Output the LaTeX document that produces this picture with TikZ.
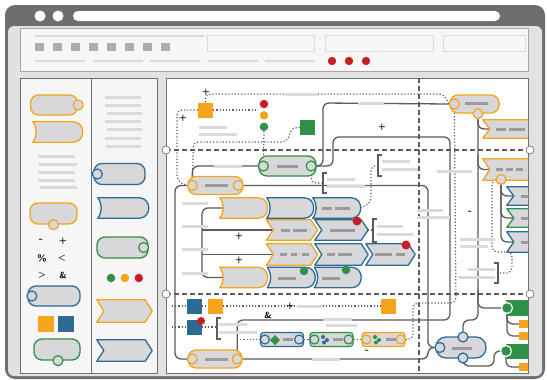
\documentclass[tikz,border=0pt]{standalone}
\usepackage{tikz}
\usetikzlibrary{positioning}

\definecolor{orng}{HTML}{F4A51C}
\definecolor{blu}{HTML}{2D6A94}
\definecolor{grn}{HTML}{2E9147}
\definecolor{rd}{HTML}{C81E28}
\definecolor{shp}{HTML}{D8D8DA}
\definecolor{lbar}{HTML}{DADADA}
\definecolor{dbar}{HTML}{9A9A9A}
\definecolor{wirec}{HTML}{5C5C5C}
\definecolor{framec}{HTML}{6E6E6E}
\definecolor{bodyc}{HTML}{E2E2E2}
\definecolor{panelc}{HTML}{F6F6F6}

\pgfdeclarelayer{back}
\pgfdeclarelayer{wires}
\pgfsetlayers{back,wires,main}

% block with a hollow left side and a round nose
\newcommand{\dshape}[6]{%
  \node[inner sep=0pt, minimum width=#4pt, minimum height=#5pt] (#1) at (#2,#3) {};
  \draw[draw=#6, fill=shp, line width=1.3pt, line join=round]
    (#1.north west) to[bend left=35] (#1.south west)
    -- ([xshift=-9pt]#1.south east) to[out=0, in=0, looseness=1.6] ([xshift=-9pt]#1.north east) -- cycle;
  \coordinate (#1-in) at ([xshift=4pt]#1.west);
}
% arrow shaped step
\newcommand{\chev}[6]{%
  \node[inner sep=0pt, minimum width=#4pt, minimum height=#5pt] (#1) at (#2,#3) {};
  \draw[draw=#6, fill=shp, line width=1.3pt, line join=round]
    (#1.north west) -- ([xshift=-7pt]#1.north east) -- (#1.east)
    -- ([xshift=-7pt]#1.south east) -- (#1.south west) -- ([xshift=7pt]#1.west) -- cycle;
  \coordinate (#1-in) at ([xshift=7pt]#1.west);
}

\begin{document}
\begin{tikzpicture}[x=1pt, y=1pt,
  pill/.style={draw=#1, fill=shp, line width=1.3pt, rounded corners=8pt, inner sep=0pt},
  port/.style={circle, draw=#1, fill=shp, line width=1.2pt, minimum size=10pt, inner sep=0pt},
  lamp/.style={circle, fill=#1, minimum size=8.5pt, inner sep=0pt},
  sq/.style={fill=#1, minimum size=15pt, inner sep=0pt},
  task/.style={draw=#1, fill=shp, line width=1.2pt, rounded corners=3pt, minimum width=43pt, minimum height=14pt, inner sep=0pt},
  sink/.style={fill=grn, minimum width=30pt, inner sep=0pt, anchor=west},
  outlet/.style={fill=orng, minimum width=16pt, minimum height=8pt, inner sep=0pt, anchor=west},
  wire/.style={draw=wirec, line width=1.3pt, rounded corners=6pt},
  dotwire/.style={draw=wirec, line width=1.2pt, dotted, rounded corners=5pt},
  lane/.style={draw=wirec, line width=1.1pt, dash pattern=on 5pt off 3pt},
  brk/.style={draw=wirec, line width=1.2pt},
  txt/.style={draw=lbar, line width=3pt},
  ink/.style={draw=dbar, line width=3pt},
  sym/.style={font=\sffamily\bfseries\small, inner sep=0pt},
  minus/.style={font=\sffamily\bfseries\large, inner sep=0pt},
  handle/.style={circle, draw=gray, fill=white, line width=0.8pt, minimum size=8pt, inner sep=0pt}]
\useasboundingbox (0,0) rectangle (547,-380);

\begin{pgfonlayer}{back}
  % window
  \fill[framec, rounded corners=10pt] (5,-5) rectangle (545,-379);
  \fill[bodyc, rounded corners=6pt] (8,-26) rectangle (542,-376);
  \fill[white] (40,-16) circle (5.5) (58,-16) circle (5.5);
  \fill[white, rounded corners=5pt] (73,-11) rectangle (500,-21);
  % toolbar
  \draw[draw=gray!70, fill=panelc, line width=0.8pt] (20,-28) rectangle (528,-71);
  \draw[txt, line width=2.5pt] (35,-36) -- (204,-36);
  \draw[lbar, line width=1pt] (207,-35) rectangle (314,-51);
  \draw[lbar, line width=1pt] (325,-35) rectangle (433,-51);
  \draw[lbar, line width=1pt] (443,-35) rectangle (525,-51);
  \foreach \i in {0,...,7}
    \fill[gray!65] (35+18*\i,-43) rectangle ++(9,-8);
  \foreach \i in {0,...,4}
    \draw[txt, line width=2.5pt] (35+57.5*\i,-61) -- ++(50,0);
  \foreach \x in {332,349,366}
    \fill[rd] (\x,-61) circle (4.2);
  % side panels and canvas
  \draw[draw=framec, fill=panelc, line width=0.8pt] (20,-78) rectangle (91,-373);
  \draw[draw=framec, fill=panelc, line width=0.8pt] (91,-78) rectangle (157,-373);
  \draw[draw=framec, fill=white, line width=0.8pt] (166,-78) rectangle (528,-373);
\end{pgfonlayer}

% palette, left column
\node[pill=orng, minimum width=47pt, minimum height=20pt] (PalA) at (54,-105) {};
\node[port=orng] (PalAp) at (PalA.east) {};
\dshape{PalB}{57.5}{-132}{49}{20}{orng}
\foreach \a/\b/\y in {38/75/156, 39/77/164, 38/75/172, 38/75/180, 40/77/187}
  \draw[txt] (\a,-\y) -- (\b,-\y);
\node[pill=orng, minimum width=47pt, minimum height=21pt] (PalC) at (53.5,-213.5) {};
\node[port=orng] (PalCp) at (PalC.south) {};
\node[minus] (OpMinus) at (41,-241) {-};
\node[sym] (OpPlus) at (63,-241) {+};
\node[sym] (OpPct) at (42,-258) {\%};
\node[sym] (OpLess) at (62,-258) {<};
\node[sym] (OpMore) at (42,-275) {>};
\node[sym] (OpAnd) at (63,-275) {\&};
\node[pill=blu, minimum width=52pt, minimum height=20pt] (PalD) at (54,-296) {};
\node[port=blu] (PalDp) at ([xshift=4.5pt]PalD.west) {};
\node[sq=orng, minimum size=16pt] (PalSqA) at (45.5,-323.5) {};
\node[sq=blu, minimum size=16pt] (PalSqB) at (65.5,-323.5) {};
\node[pill=grn, minimum width=46pt, minimum height=21pt] (PalE) at (57,-349.5) {};
\node[port=grn] (PalEp) at ([xshift=1pt]PalE.south) {};

% palette, right column
\foreach \a/\b/\y in {105/141/97, 105/141/105, 107/142/113, 105/141/121, 107/142/129, 105/141/138, 106/141/146}
  \draw[txt] (\a,-\y) -- (\b,-\y);
\node[pill=blu, minimum width=51pt, minimum height=21pt] (PalF) at (119.5,-174) {};
\node[port=blu] (PalFp) at ([xshift=4pt]PalF.west) {};
\dshape{PalG}{123}{-208}{50}{20}{blu}
\node[pill=grn, minimum width=51pt, minimum height=21pt] (PalH) at (122.5,-247.5) {};
\node[port=grn] (PalHp) at ([xshift=-5pt]PalH.east) {};
\node[lamp=grn] (PalLampA) at (111,-278) {};
\node[lamp=orng, right=5pt of PalLampA] (PalLampB) {};
\node[lamp=rd, right=5pt of PalLampB] (PalLampC) {};
\chev{PalI}{124.5}{-311}{55}{22}{orng}
\chev{PalJ}{124.5}{-350.5}{55}{21}{blu}

% canvas: top left
\node[sq=orng] (OrSq) at (205.5,-110) {};
\node[lamp=rd] (RedLamp) at (264,-104) {};
\node[lamp=orng, below=2.5pt of RedLamp] (AmberLamp) {};
\node[lamp=grn, below=2.5pt of AmberLamp] (GreenLamp) {};
\node[sq=grn] (GrSq) at (307.5,-127.5) {};
\node[pill=grn, minimum width=57pt, minimum height=20pt] (GrCap) at (287.5,-166) {};
\node[port=grn] (GrCapL) at ([xshift=5pt]GrCap.west) {};
\node[port=grn] (GrCapR) at ([xshift=-5.5pt]GrCap.east) {};
\node[pill=orng, minimum width=55pt, minimum height=18pt] (InCap) at (215.5,-185.5) {};
\node[port=orng] (InCapL) at ([xshift=5pt]InCap.west) {};
\node[port=orng] (InCapR) at ([xshift=-5.5pt]InCap.east) {};
\node[pill=orng, minimum width=54pt, minimum height=18pt] (OutCap) at (215,-359) {};
\node[port=orng] (OutCapL) at ([xshift=5pt]OutCap.west) {};
\node[port=orng] (OutCapR) at ([xshift=-5.5pt]OutCap.east) {};
\node[pill=orng, minimum width=49pt, minimum height=18pt] (HubCap) at (474.5,-104) {};
\node[port=orng] (HubCapL) at ([xshift=5pt]HubCap.west) {};
\node[port=orng] (HubCapB) at ([xshift=3.5pt]HubCap.south) {};

% canvas: step rows
\dshape{RowA1}{243.5}{-208}{47}{20}{orng}
\dshape{RowA2}{290}{-208}{46}{20}{blu}
\dshape{RowA3}{336.5}{-208}{47}{20}{blu}
\chev{RowB1}{292}{-230}{51}{20}{orng}
\chev{RowB2}{341.5}{-230}{53}{20}{blu}
\chev{RowC1}{292}{-254.5}{51}{21}{orng}
\chev{RowC2}{341.5}{-254.5}{53}{21}{blu}
\chev{RowC3}{390.5}{-254.5}{49}{21}{blu}
\dshape{RowD1}{243.5}{-277.5}{47}{20}{orng}
\dshape{RowD2}{291}{-277.5}{47}{20}{blu}
\dshape{RowD3}{337.5}{-277.5}{46}{20}{blu}
\node[lamp=rd, minimum size=9pt] (RowB2Err) at (357,-221) {};
\node[lamp=rd, minimum size=9pt] (RowC3Err) at (406,-245) {};
\node[lamp=grn] (RowD2Ok) at (304,-271) {};
\node[lamp=grn] (RowD3Ok) at (346,-270) {};

% canvas: bottom
\node[sq=blu] (BlSqA) at (194,-306) {};
\node[sq=orng] (OrSqB) at (215.5,-306) {};
\node[sq=orng] (OrSqC) at (388,-306) {};
\node[sq=blu] (BlSqB) at (194,-327) {};
\node[lamp=rd, minimum size=8pt] (BlSqBErr) at (201,-321) {};
\node[task=blu] (TaskA) at (282,-339.5) {};
\node[port=blu, minimum size=9pt] (TaskAl) at ([xshift=5pt]TaskA.west) {};
\node[port=blu, minimum size=9pt] (TaskAr) at ([xshift=-5pt]TaskA.east) {};
\node[task=grn] (TaskB) at (331.5,-339.5) {};
\node[port=grn, minimum size=9pt] (TaskBl) at ([xshift=5pt]TaskB.west) {};
\node[port=grn, minimum size=9pt] (TaskBr) at ([xshift=-5pt]TaskB.east) {};
\node[task=orng] (TaskC) at (383.5,-339.5) {};
\node[port=orng, minimum size=9pt] (TaskCl) at ([xshift=5pt]TaskC.west) {};
\node[port=orng, minimum size=9pt] (TaskCr) at ([xshift=-5pt]TaskC.east) {};
\fill[grn] (275,-335) -- (280,-340) -- (275,-345) -- (270,-340) -- cycle;
\fill[blu] (323,-337) circle (2) (327,-340) circle (2) (324,-342.5) circle (2);
\fill[grn] (375,-337) circle (2) (379,-340) circle (2) (376,-342.5) circle (2);
\node[pill=blu, minimum width=50pt, minimum height=21pt, rounded corners=10pt] (Cloud) at (461,-347.5) {};
\node[port=blu] (CloudL) at ([xshift=4.5pt]Cloud.west) {};
\node[port=blu] (CloudT) at (463,-337) {};
\node[port=blu] (CloudB) at (463,-358) {};

% canvas: right edge, cut by the frame
\begin{scope}
  \clip (166,-78) rectangle (528,-373);
  \chev{HubChA}{511}{-129}{56}{18}{orng}
  \chev{HubChB}{511}{-169.5}{56}{21}{orng}
  \chev{SideCh1}{523}{-196}{32}{18}{blu}
  \chev{SideCh2}{523}{-218}{32}{18}{grn}
  \chev{SideCh3}{523}{-242}{32}{20}{blu}
  \node[sink, minimum height=16pt] (SinkA) at (506,-308) {};
  \node[sink, minimum height=15pt] (SinkB) at (506,-351) {};
  \node[outlet] (OutA) at (519,-324) {};
  \node[outlet] (OutB) at (519,-336) {};
  \node[outlet] (OutC) at (519,-367) {};
  \draw[ink] (496,-129) -- (506,-129) (509,-129) -- (525,-129);
  \draw[ink] (496,-169.5) -- (503,-169.5) (506,-169.5) -- (513,-169.5) (516,-169.5) -- (523,-169.5);
  \foreach \y in {196,218,242}
    \draw[ink] (521,-\y) -- (530,-\y);
\end{scope}
\node[port=orng] (HubChBp) at (501,-179.5) {};
\node[circle, fill=grn, draw=white, line width=1.2pt, minimum size=11pt, inner sep=0pt] (SinkAp) at (507,-308) {};
\node[circle, fill=grn, draw=white, line width=1.2pt, minimum size=11pt, inner sep=0pt] (SinkBp) at (506,-351) {};

% brackets
\draw[brk] (221,-318) -- (217,-318) -- (217,-339) -- (221,-339);
\draw[brk] (327,-173) -- (323,-173) -- (323,-193) -- (327,-193);
\draw[brk] (382,-155) -- (378,-155) -- (378,-176) -- (382,-176);
\draw[brk] (377,-219) -- (373,-219) -- (373,-242) -- (377,-242);
\draw[brk] (494,-263) -- (498,-263) -- (498,-283) -- (494,-283);

\begin{pgfonlayer}{wires}
  \draw[lane] (166,-150) -- (528,-150);
  \draw[lane] (166,-294) -- (528,-294);
  \draw[lane] (419,-78) -- (419,-373);

  \draw[wire] (InCapL.west) -- (175,-185.5) -- (175,-359) -- (OutCapL.west);
  \draw[wire] (InCapL.north) |- (GrCapL.west);
  \draw[wire] (InCapR.east) -- (428,-185.5) -- (428,-347.5) -- (CloudL.west);
  \draw[wire] (OutCapR.east) -| (428,-347.5) -- (CloudL.west);
  \draw[wire] (GrCapR.east) -| (323,-103) -- (HubCapL.west);
  \draw[wire] (GrCapR.east) -| (333,-137) -| (450,-320) -| (OutCapR.north);
  \draw[wire] (HubCapB.south) -- (478,-320) -| (CloudT.north);
  \draw[wire] (478,-290) |- (SinkAp.west);
  \draw[wire] (478,-118) |- (HubChA-in);
  \draw[wire] (478,-155) |- (HubChB-in);
  \draw[wire] (HubChBp.south) |- (SideCh1-in);
  \draw[wire] (HubChBp.south) |- (SideCh2-in);
  \draw[wire] (HubChBp.south) |- (SideCh3-in);
  \draw[wire] (SinkAp.south) |- (OutA.west);
  \draw[wire] (SinkAp.south) |- (OutB.west);
  \draw[wire] (SinkBp.south) |- (OutC.west);
  \draw[wire] (CloudB.south) |- (494,-366) |- (SinkBp.west);
  \draw[wire] (RowA1-in) -- (202,-208) -- (202,-277.5) -- (RowD1-in);
  \draw[wire] (202,-230) -- (RowB1-in);
  \draw[wire] (202,-254.5) -- (RowC1-in);

  \draw[dotwire] (OrSq.north) |- (444,-94) -- (HubCapL.west);
  \draw[dotwire] (OrSq.east) -- (258,-110);
  \draw[dotwire] (OrSq.west) -| (177,-181) -- (InCapL.west);
  \draw[dotwire] (GrSq.west) -- (292,-127.5) -- (287,-142) -- (193.5,-142) -- (InCapL.north);
  \draw[dotwire] (GreenLamp.south) -- (GrCapL.north);
  \draw[dotwire] (GrCapR.south) |- (323,-183);
  \draw[dotwire] (378,-165.5) -- (371,-165.5) -- (371,-203) -- (RowA3.east);
  \draw[dotwire] (RowB2.east) -- (373,-230);
  \draw[dotwire] (HubCapL.south) -- (456,-303) -- (413,-303) -- (413,-339.5) -- (TaskC.east);
  \draw[dotwire] (HubChBp.west) -| (492,-252) -| (512,-273) -- (498,-273);
  \draw[dotwire] (172,-306) -- (BlSqA.west);
  \draw[dotwire] (BlSqA.east) -- (OrSqB.west);
  \draw[dotwire] (OrSqB.east) -- (OrSqC.west);
  \draw[dotwire] (172,-327) -- (BlSqB.west);
  \draw[dotwire] (BlSqB.east) -- (215,-327);
  \draw[dotwire] (237,-339.5) -- (TaskA.west);
  \draw[dotwire] (TaskA.east) -- (TaskB.west);
  \draw[dotwire] (TaskB.east) -- (TaskC.west);
\end{pgfonlayer}

% labels as grey bars
\foreach \a/\b/\y in {285/318/94, 199/227/127, 199/237/134, 214/242/166, 358/384/103,
    327/355/179, 327/365/186, 382/410/161, 382/418/169, 437/472/171,
    417/443/210, 417/450/217, 377/403/226, 377/413/234,
    182/208/203, 182/208/226, 182/208/249, 182/208/273,
    460/495/239, 460/488/246, 468/495/269, 458/495/277,
    297/323/306, 219/247/324, 219/257/332, 323/352/319, 326/357/325, 312/340/359}
  \draw[txt] (\a,-\y) -- (\b,-\y);
\foreach \a/\b/\y in {277/298/166, 205/228/185.5, 205/228/359, 465/488/103,
    322/332/208, 335/350/208, 281/290/230, 293/307/230, 330/355/230,
    280/287/254.5, 291/297/254.5, 302/309/254.5, 327/335/254.5, 338/352/254.5,
    375/392/254.5, 396/405/254.5, 278/296/278, 322/340/278, 452/472/348}
  \draw[ink] (\a,-\y) -- (\b,-\y);
\foreach \a/\b in {283/293, 333/343, 386/396}
  \draw[ink, line width=2.5pt] (\a,-339.5) -- (\b,-339.5);

% operators
\node[sym] (PlusA) at (206,-92) {+};
\node[sym] (PlusB) at (183,-118) {+};
\node[sym] (PlusC) at (382,-127) {+};
\node[sym] (PlusD) at (239,-236) {+};
\node[sym] (PlusE) at (239,-260) {+};
\node[sym] (PlusF) at (290,-306) {+};
\node[sym] (AndA) at (268,-315) {\&};
\node[minus] (MinusA) at (367,-352) {-};
\node[minus] (MinusB) at (470,-213) {-};

% handles on the canvas edge
\node[handle] (HdlA) at (166,-150) {};
\node[handle] (HdlB) at (166,-294) {};
\node[handle] (HdlC) at (530,-150) {};
\node[handle] (HdlD) at (530,-294) {};
\end{tikzpicture}
\end{document}
